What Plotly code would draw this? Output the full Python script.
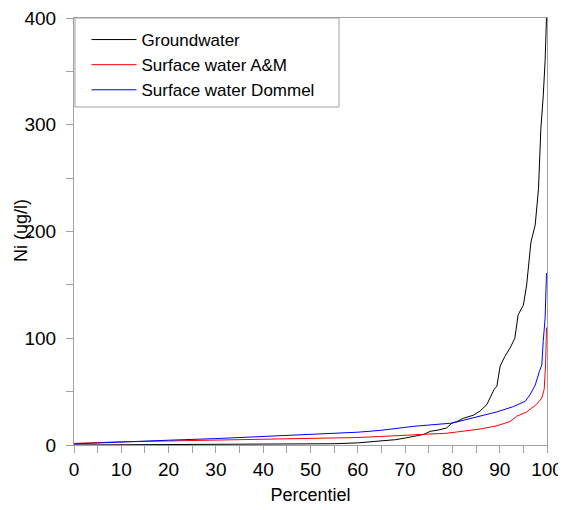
import plotly.graph_objects as go

gw_x = [0, 10, 20, 30, 40, 50, 55, 60, 65, 68, 70, 72, 74, 75.3, 77, 78.8, 79.9, 81, 82.3, 84.5, 85.9, 87.3, 88.3, 88.8, 89.4, 90.1, 91.1, 92.2, 93.2, 93.9, 95.0, 95.7, 96.6, 97.5, 98.2, 98.7, 99.2, 99.6, 99.9]
gw_y = [0, 0.1, 0.2, 0.3, 0.5, 0.8, 1.2, 2, 3.5, 5, 6.5, 8, 10, 12.8, 14, 16, 20.5, 22, 25, 28, 32, 38, 47, 52, 55, 74, 83, 91, 100, 122, 131, 150, 190, 206, 240, 296, 327, 360, 401]

am_x = [0, 5, 10, 20, 30, 40, 50, 60, 64.8, 71.8, 78.8, 85.9, 89.4, 92.2, 93.6, 95.7, 97.8, 98.9, 99.4, 99.7, 99.9]
am_y = [1.5, 2.5, 3, 3.8, 4.5, 5.3, 6, 7, 8, 9.6, 11, 15, 18, 22, 27, 31, 38, 44, 52, 75, 110]

dm_x = [0, 5, 10, 20, 30, 40, 50, 60, 64.8, 71.8, 79.9, 85.9, 89.4, 92.9, 95.4, 96.4, 97.5, 98.4, 98.9, 99.2, 99.6, 99.9]
dm_y = [1, 2, 3, 4.5, 6, 7.8, 9.8, 12, 13.7, 17.5, 20.5, 27, 31, 36, 41, 47, 56, 69, 75, 97, 119, 161]

names = ["Groundwater", "Surface water A&M", "Surface water Dommel"]
x_ticks = list(range(0, 101, 5))
x_labels = [str(v) if v % 10 == 0 else "" for v in x_ticks]
y_ticks = list(range(0, 401, 50))
y_labels = [str(v) if v % 100 == 0 else "" for v in y_ticks]

fig = go.Figure()
fig.add_trace(go.Scatter(x=gw_x, y=gw_y, mode="lines", name=names[0], line=dict(color="black", width=1)))
fig.add_trace(go.Scatter(x=am_x, y=am_y, mode="lines", name=names[1], line=dict(color="#ff0000", width=1)))
fig.add_trace(go.Scatter(x=dm_x, y=dm_y, mode="lines", name=names[2], line=dict(color="#0000ff", width=1)))

# figure coordinates (page has an 8px body margin)
L, R, T, B = 66, 27, 10, 73
W, H = 566, 510
pw = W - L - R
ph = H - T - B

def px(xf):
    return (xf - L) / pw

def py(yf):
    return (H - B - yf) / ph

fig.add_shape(type="rect", xref="paper", yref="paper",
              x0=px(67), x1=px(331), y0=py(99), y1=py(10),
              line=dict(color="#a0a0a0", width=1), fillcolor="white", layer="below")

fig.add_annotation(text="Ni (ug/l)", xref="paper", yref="paper", x=px(13), y=py(223),
                   xanchor="center", yanchor="middle", textangle=-90, showarrow=False,
                   font=dict(size=18, color="black"))

axis_common = dict(showline=True, linecolor="#a0a0a0", linewidth=1, mirror=True,
                   ticks="outside", ticklen=7, tickcolor="#a0a0a0", showgrid=False, zeroline=False,
                   automargin=False, ticklabeloverflow="allow", tickfont=dict(size=19, color="black"))

fig.update_layout(
    width=W, height=H,
    margin=dict(l=L, r=R, t=T, b=B),
    paper_bgcolor="white", plot_bgcolor="white",
    font=dict(family="Liberation Sans, Arial, sans-serif", color="black"),
    xaxis=dict(range=[0, 100], tickvals=x_ticks, ticktext=x_labels, ticklabelstandoff=0,
               title=dict(text="Percentiel", font=dict(size=18), standoff=9), **axis_common),
    yaxis=dict(range=[0, 400], tickvals=y_ticks, ticktext=y_labels, ticklabelstandoff=6,
               **axis_common),
    legend=dict(x=px(78.5), y=1 - 4 / ph, xanchor="left", yanchor="top", bgcolor="rgba(0,0,0,0)",
                borderwidth=0, font=dict(size=17), tracegroupgap=0, itemwidth=45),
    showlegend=True,
)

fig.write_html("out.html")
